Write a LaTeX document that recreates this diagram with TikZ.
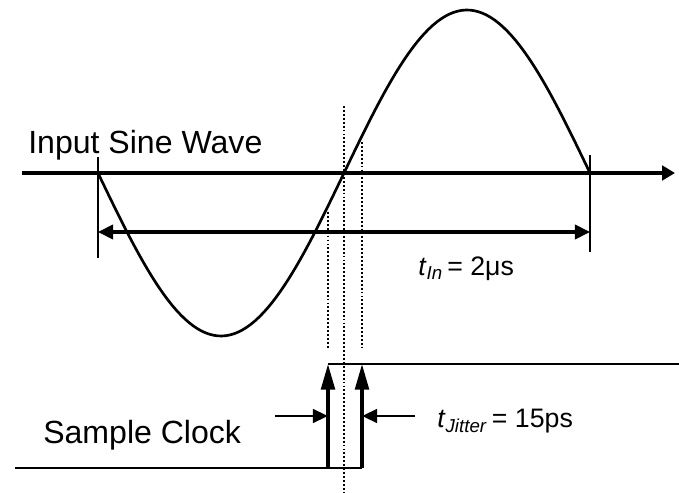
\documentclass[tikz,border=0pt]{standalone}
\usepackage{fontspec}
\setmainfont{Liberation Sans}
\usetikzlibrary{arrows.meta, positioning, calc}

\begin{document}
\begin{tikzpicture}[x=0.025cm, y=-0.025cm,
  axisline/.style={line width=2.3pt, -{Triangle[length=3.2mm, width=3.6mm]}},
  wave/.style={line width=1.9pt},
  tickline/.style={line width=1.6pt},
  span/.style={line width=2.3pt, {Triangle[length=3.8mm, width=3.6mm]}-{Triangle[length=3.8mm, width=3.6mm]}},
  dots/.style={line width=2.1pt, dash pattern=on 1.3pt off 1.5pt},
  clockline/.style={line width=1.7pt},
  edgearrow/.style={line width=2.5pt, -{Triangle[length=6.4mm, width=3.4mm]}},
  pinch/.style={line width=2.1pt, -{Triangle[length=3.8mm, width=3.4mm]}},
  biglabel/.style={inner sep=0pt, anchor=base west, font=\fontsize{22.8}{24}\selectfont},
  smalllabel/.style={inner sep=0pt, anchor=base west, font=\fontsize{19}{21}\selectfont}]
  \useasboundingbox (0,0) rectangle (679,493);

  % Time axis and sine
  \coordinate (axL) at (22,173);
  \coordinate (axR) at (675,173);
  \draw[axisline] (axL) -- (axR);
  \draw[wave] plot[domain=98:590, samples=120] (\x, {173 + 163*sin((\x-98)/492*360)});
  \node[biglabel] (sine) at (28,153) {Input Sine Wave};

  % Period marks
  \coordinate (tkLt) at (98,157);
  \coordinate (tkLb) at (98,258);
  \coordinate (tkRt) at (590,155);
  \coordinate (tkRb) at (590,252);
  \draw[tickline] (tkLt) -- (tkLb);
  \draw[tickline] (tkRt) -- (tkRb);
  \coordinate (spL) at (98,232);
  \coordinate (spR) at (590,232);
  \draw[span] (spL) -- (spR);
  \node[smalllabel] (tin) at (418,275) {\textit{t}\textsubscript{\textit{In}}\,= 2μs};

  % Dotted guides
  \coordinate (dLt) at (328,212);
  \coordinate (dLb) at (328,348);
  \coordinate (dCt) at (344,106);
  \coordinate (dCb) at (344,493);
  \coordinate (dRt) at (362,142);
  \coordinate (dRb) at (362,348);
  \draw[dots] (dLt) -- (dLb);
  \draw[dots] (dCt) -- (dCb);
  \draw[dots] (dRt) -- (dRb);

  % Sample clock
  \coordinate (ckLo) at (15,468);
  \coordinate (ckA) at (328,468);
  \coordinate (ckB) at (362,468);
  \coordinate (ckAh) at (328,364);
  \coordinate (ckBh) at (362,364);
  \coordinate (ckHi) at (679,364);
  \draw[clockline] (ckLo) -- (ckB);
  \draw[clockline] (ckAh) -- (ckHi);
  \draw[edgearrow] (ckA) -- (ckAh);
  \draw[edgearrow] (ckB) -- (ckBh);
  \node[biglabel] (clk) at (43,443) {Sample Clock};

  % Jitter window
  \coordinate (jL) at (275,416);
  \coordinate (jR) at (415,416);
  \draw[pinch] (jL) -- (ckA |- jL);
  \draw[pinch] (jR) -- (ckB |- jR);
  \node[smalllabel] (tjit) at (437,427) {\textit{t}\textsubscript{\textit{Jitter}}\,= 15ps};
\end{tikzpicture}
\end{document}
